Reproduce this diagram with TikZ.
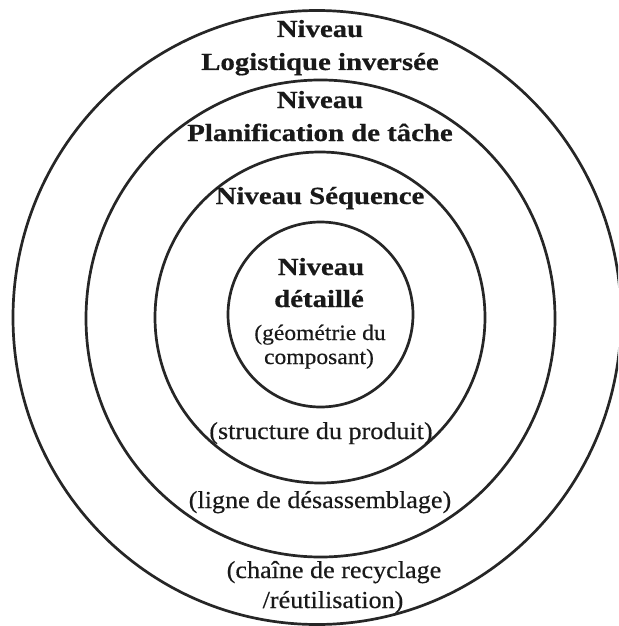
\documentclass[tikz,border=0pt]{standalone}
\usepackage{fontspec}
\setmainfont{Liberation Serif}[FakeStretch=1.07, FakeBold=0.4]
\newfontfamily\boldf{Liberation Serif}[FakeStretch=1.17, FakeBold=0.6]
\tikzset{
  ring/.style={draw=black!85, line width=2.7pt},
  bt/.style={font=\boldf\bfseries\fontsize{24.6}{30}\selectfont, anchor=base, inner sep=0pt, text=black!90},
  rt/.style={font=\fontsize{24.4}{29}\selectfont, anchor=base, inner sep=0pt, text=black!90},
  st/.style={font=\fontsize{22}{26}\selectfont, anchor=base, inner sep=0pt, text=black!90}
}
\begin{document}
\begin{tikzpicture}[x=1pt,y=-1pt]
\useasboundingbox (0,0) rectangle (618,626);
\fill[white] (0,0) rectangle (618,626);
\begin{scope}
\clip (0,0) rectangle (618,626);
\draw[ring] (317,317.5) ellipse [x radius=304, y radius=307];
\draw[ring] (320.5,318.5) ellipse [x radius=234.5, y radius=238.5];
\draw[ring] (320,317.5) ellipse [x radius=165, y radius=165.5];
\draw[ring] (320.5,314.5) ellipse [x radius=92.5, y radius=92.5];
\end{scope}
\node[bt] (l1a) at (320,37) {Niveau};
\node[bt] (l1b) at (320,70) {Logistique inversée};
\node[bt] (l2a) at (320,108) {Niveau};
\node[bt] (l2b) at (320,141) {Planification de tâche};
\node[bt] (l3) at (320,204) {Niveau Séquence};
\node[bt] (l4a) at (321,275) {Niveau};
\node[bt] (l4b) at (319,307) {détaillé};
\node[st] (d4a) at (320,340) {(géométrie du};
\node[st] (d4b) at (319,364) {composant)};
\node[rt] (d3) at (321,439) {(structure du produit)};
\node[rt] (d2) at (320,508) {(ligne de désassemblage)};
\node[rt] (d1a) at (334,578) {(chaîne de recyclage};
\node[rt] (d1b) at (333,608) {/réutilisation)};
\end{tikzpicture}
\end{document}
